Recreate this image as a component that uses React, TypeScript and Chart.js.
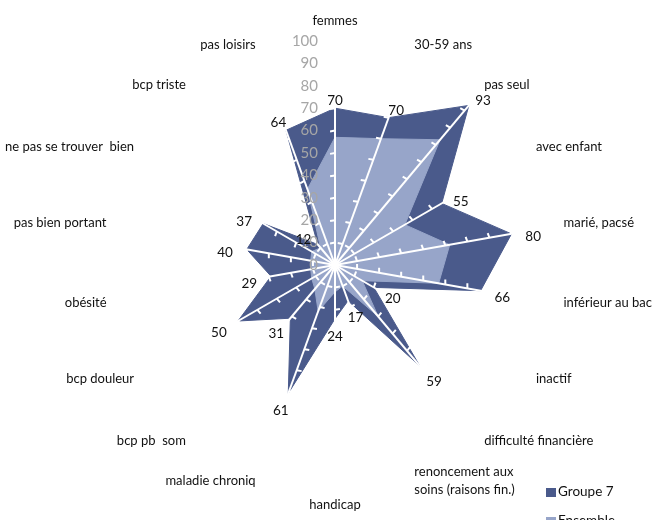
import { useEffect, useRef } from 'react';
import { Chart, registerables } from 'chart.js';

Chart.register(...registerables);

// Axis categories, clockwise from the top
const categories: (string | string[])[] = [
  'femmes',
  '30-59 ans',
  'pas seul',
  'avec enfant',
  'marié, pacsé',
  'inférieur au bac',
  'inactif',
  'difficulté financière',
  ['renoncement aux', 'soins (raisons fin.)'],
  'handicap',
  'maladie chroniq',
  'bcp pb  som',
  'bcp douleur',
  'obésité',
  'pas bien portant',
  'ne pas se trouver  bien',
  'bcp triste',
  'pas loisirs',
];

const groupe7 = [70, 70, 93, 55, 80, 66, 20, 59, 17, 24, 61, 31, 50, 29, 40, 37, 12, 64];
const ensemble = [57, 60, 73, 36, 52, 47, 14, 30, 10, 12, 22, 14, 12, 11, 11, 12, 10, 36];

const radialTicks = [0, 10, 20, 30, 40, 50, 60, 70, 80, 90, 100];

const DARK = '#4A5A8B';
const LIGHT = '#97A5C9';
const FONT = 'Lato, "Liberation Sans", sans-serif';
const TICK_MARK = 5;

// Tick labels, category labels and value labels
const textPlugin = {
  id: 'radarText',
  afterDraw(chart: any) {
    const scale = chart.scales.r;
    const ctx = chart.ctx as CanvasRenderingContext2D;
    ctx.save();

    // radial tick labels, to the left of the first axis
    ctx.font = `15px ${FONT}`;
    ctx.fillStyle = '#A6A6A6';
    ctx.textAlign = 'right';
    ctx.textBaseline = 'middle';
    scale.ticks.forEach((t: any) => {
      const d = scale.getDistanceFromCenterForValue(t.value);
      ctx.fillText(String(t.value), scale.xCenter - 17, scale.yCenter - d);
    });

    // category labels around the web
    ctx.font = `13px ${FONT}`;
    ctx.fillStyle = '#111';
    categories.forEach((lab, i) => {
      const a = scale.getIndexAngle(i);
      const s = Math.sin(a);
      const c = Math.cos(a);
      const p = scale.getPointPosition(i, scale.drawingArea + 8);
      const lines = Array.isArray(lab) ? lab : [lab];
      let y: number;
      if (Math.abs(s) < 0.05) {
        ctx.textAlign = 'center';
        y = p.y - (c > 0 ? 12 : -8);
      } else {
        ctx.textAlign = s > 0 ? 'left' : 'right';
        y = p.y - 2;
      }
      const lh = 18;
      lines.forEach((ln, k) => {
        ctx.fillText(ln, p.x, y + (k - (lines.length - 1) / 2) * lh);
      });
    });

    // value labels for Groupe 7
    ctx.font = `13.5px ${FONT}`;
    const meta = chart.getDatasetMeta(0);
    ctx.textAlign = 'center';
    ctx.fillStyle = '#111';
    meta.data.forEach((el: any, i: number) => {
      const a = scale.getIndexAngle(i);
      const x = el.x + 22 * Math.sin(a);
      const y = el.y - 13 * Math.cos(a) + 5;
      ctx.fillText(String(groupe7[i]), x, y);
    });

    ctx.restore();
  },
};

export default function App() {
  const ref = useRef<HTMLCanvasElement>(null);

  useEffect(() => {
    if (!ref.current) return;
    const n = categories.length;
    const chart = new Chart(ref.current, {
      type: 'radar',
      data: {
        labels: categories,
        datasets: [
          {
            label: 'Groupe 7',
            data: groupe7,
            backgroundColor: DARK,
            borderColor: DARK,
            borderWidth: 1,
            pointRadius: 0,
            fill: 'origin',
            order: 2,
          },
          {
            label: 'Ensemble',
            data: ensemble,
            backgroundColor: LIGHT,
            borderColor: LIGHT,
            borderWidth: 1,
            pointRadius: 0,
            fill: 'origin',
            order: 1,
          },
        ],
      },
      options: {
        responsive: false,
        animation: false,
        layout: { padding: { left: 111, top: 41, right: 94, bottom: 31 } },
        plugins: {
          legend: { display: false },
          tooltip: { enabled: false },
        },
        scales: {
          r: {
            min: 0,
            max: 100,
            afterBuildTicks: (scale: any) => {
              scale.ticks = radialTicks.map((v) => ({ value: v }));
            },
            ticks: { display: false },
            pointLabels: { display: false },
            // spokes and tick marks are painted over the filled areas
            grid: { color: '#FFFFFF', lineWidth: 2, circular: false, z: 1 },
            border: {
              z: 1,
              // short marks on each spoke, on its counter-clockwise side
              dash: (c: any) => {
                const r = c.scale.getDistanceFromCenterForValue(c.tick.value);
                const seg = 2 * r * Math.sin(Math.PI / n);
                return [TICK_MARK, Math.max(0, seg - TICK_MARK)];
              },
              dashOffset: TICK_MARK,
            },
            angleLines: { color: '#FFFFFF', lineWidth: 2 },
          },
        },
      },
      plugins: [textPlugin],
    } as any);
    return () => chart.destroy();
  }, []);

  const legendText: React.CSSProperties = {
    position: 'absolute',
    left: 558,
    font: `13.5px ${FONT}`,
    color: '#111',
    lineHeight: '16px',
    whiteSpace: 'nowrap',
  };

  return (
    <div
      style={{
        position: 'absolute',
        left: 0,
        top: 0,
        width: 653,
        height: 520,
        overflow: 'hidden',
        background: '#FFFFFF',
      }}
    >
      <canvas ref={ref} width={653} height={520} style={{ display: 'block' }} />
      <div style={{ position: 'absolute', left: 546, top: 488, width: 10, height: 9, background: DARK }} />
      <div style={{ ...legendText, top: 483 }}>Groupe 7</div>
      <div style={{ position: 'absolute', left: 546, top: 517, width: 10, height: 9, background: LIGHT }} />
      <div style={{ ...legendText, top: 512 }}>Ensemble</div>
    </div>
  );
}
